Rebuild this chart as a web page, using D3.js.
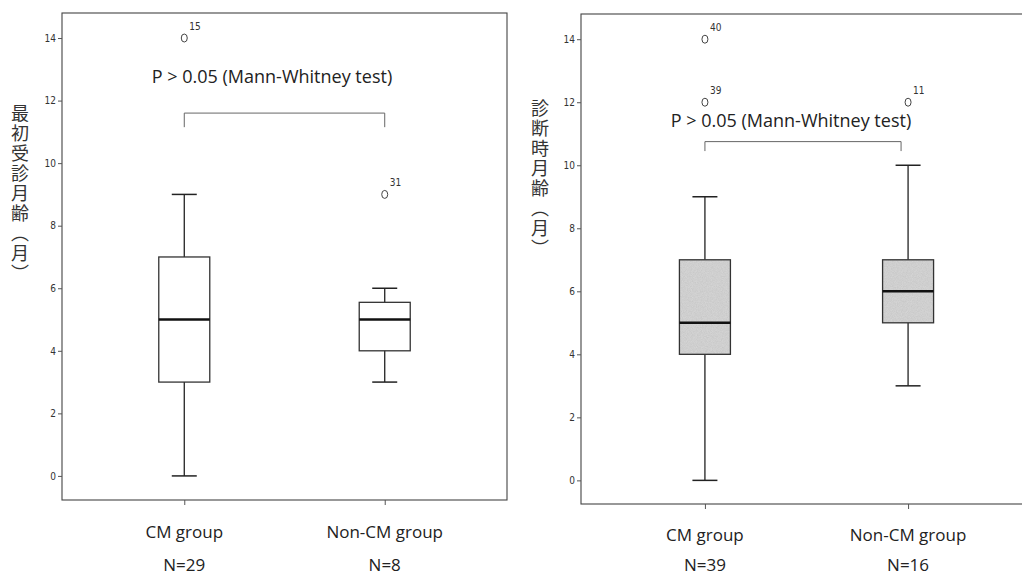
<!DOCTYPE html>
<html>
<head>
<meta charset="utf-8">
<script src="https://cdn.jsdelivr.net/npm/d3@7"></script>
<style>
  body { margin: 0; background: #fff; }
  .tick-label { font-family: "Liberation Sans Narrow", "DejaVu Sans Condensed", sans-serif; font-size: 10px; fill: #333; }
  .cat-label { font-family: "Open Sans", "Noto Sans", sans-serif; font-size: 17px; fill: #222; }
  .ptext { font-family: "Open Sans", "Noto Sans", sans-serif; font-size: 18px; fill: #222; }
  .ytitle { font-family: "Noto Sans CJK JP", sans-serif; font-size: 18px; fill: #333; writing-mode: vertical-rl; }
  .olabel { font-family: "Liberation Sans Narrow", "DejaVu Sans Condensed", sans-serif; font-size: 10px; fill: #333; }
</style>
</head>
<body>
<div class="container"></div>
<script>
const WIDTH = 1022;
const HEIGHT = 575;

// data
const groups = ["CM group", "Non-CM group"];
const yTicks = [0, 2, 4, 6, 8, 10, 12, 14];

const leftTitle = "最初受診月齢（月）";
const leftN = ["N=29", "N=8"];
const leftMin = [0, 3];
const leftQ1 = [3, 4];
const leftMedian = [5, 5];
const leftQ3 = [7, 5.55];
const leftMax = [9, 6];
const leftOutGroup = [0, 1];
const leftOutValue = [14, 9];
const leftOutId = ["15", "31"];
const leftBracket = [11.6, 11.15];

const rightTitle = "診断時月齢（月）";
const rightN = ["N=39", "N=16"];
const rightMin = [0, 3];
const rightQ1 = [4, 5];
const rightMedian = [5, 6];
const rightQ3 = [7, 7];
const rightMax = [9, 10];
const rightOutGroup = [0, 0, 1];
const rightOutValue = [14, 12, 12];
const rightOutId = ["40", "39", "11"];
const rightBracket = [10.75, 10.45];

const pText = "P > 0.05 (Mann-Whitney test)";

var svg = d3.select('.container').append('svg')
    .attr('width', WIDTH)
    .attr('height', HEIGHT);

var defs = svg.append('defs');
var filter = defs.append('filter').attr('id', 'grain')
    .attr('x', 0).attr('y', 0).attr('width', 1).attr('height', 1);
filter.append('feTurbulence').attr('type', 'fractalNoise')
    .attr('baseFrequency', 1.2).attr('numOctaves', 1).attr('result', 'noise');
filter.append('feColorMatrix').attr('in', 'noise').attr('type', 'matrix')
    .attr('values', '0 0 0 0 0.45  0 0 0 0 0.45  0 0 0 0 0.45  0.6 0 0 0 -0.05')
    .attr('result', 'dots');
filter.append('feComposite').attr('in', 'dots').attr('in2', 'SourceGraphic').attr('operator', 'in');

var drawPanel = function(p) {
    var x = d3.scalePoint().domain(groups).range([p.left, p.right]).padding(0.61);
    var y = d3.scaleLinear().domain([p.yMin, 14.8]).range([p.bottom, p.top]);
    var g = svg.append('g');
    var boxW = 51, capW = 25;

    // frame
    g.append('rect')
        .attr('x', p.left).attr('y', p.top)
        .attr('width', p.right - p.left).attr('height', p.bottom - p.top)
        .attr('fill', 'none').attr('stroke', '#444').attr('stroke-width', 1.1);

    // y axis
    var yAxis = d3.axisLeft(y).tickValues(yTicks).tickSize(4).tickPadding(2);
    var ya = g.append('g').attr('transform', 'translate(' + p.left + ',0)').call(yAxis);
    ya.select('.domain').remove();
    ya.selectAll('.tick line').attr('stroke', '#555');
    ya.selectAll('.tick text').attr('class', 'tick-label').attr('fill', null);

    // x axis ticks
    var xAxis = d3.axisBottom(x).tickSize(5).tickFormat('');
    var xa = g.append('g').attr('transform', 'translate(0,' + p.bottom + ')').call(xAxis);
    xa.select('.domain').remove();
    xa.selectAll('.tick line').attr('stroke', '#555');

    // category labels
    g.selectAll('.cat').data(groups).enter().append('text')
        .attr('class', 'cat-label')
        .attr('x', function(d) { return x(d); })
        .attr('y', p.catY)
        .attr('text-anchor', 'middle')
        .text(function(d) { return d; });
    g.selectAll('.nlab').data(p.n).enter().append('text')
        .attr('class', 'cat-label')
        .attr('x', function(d, i) { return x(groups[i]); })
        .attr('y', p.nY)
        .attr('text-anchor', 'middle')
        .text(function(d) { return d; });

    // y title (vertical)
    g.append('text')
        .attr('class', 'ytitle')
        .attr('x', p.titleX)
        .attr('y', p.titleY)
        .attr('letter-spacing', 2)
        .text(p.title);

    // boxes
    groups.forEach(function(grp, i) {
        var cx = x(grp);
        var bg = g.append('g');
        bg.append('line')
            .attr('x1', cx).attr('x2', cx)
            .attr('y1', y(p.max[i])).attr('y2', y(p.q3[i]))
            .attr('stroke', '#222').attr('stroke-width', 1.3);
        bg.append('line')
            .attr('x1', cx).attr('x2', cx)
            .attr('y1', y(p.q1[i])).attr('y2', y(p.min[i]))
            .attr('stroke', '#222').attr('stroke-width', 1.3);
        [p.max[i], p.min[i]].forEach(function(v) {
            bg.append('line')
                .attr('x1', cx - capW / 2).attr('x2', cx + capW / 2)
                .attr('y1', y(v)).attr('y2', y(v))
                .attr('stroke', '#222').attr('stroke-width', 1.5);
        });
        if (p.fill) {
            bg.append('rect')
                .attr('x', cx - boxW / 2).attr('y', y(p.q3[i]))
                .attr('width', boxW).attr('height', y(p.q1[i]) - y(p.q3[i]))
                .attr('fill', '#d8d8d8');
            bg.append('rect')
                .attr('x', cx - boxW / 2).attr('y', y(p.q3[i]))
                .attr('width', boxW).attr('height', y(p.q1[i]) - y(p.q3[i]))
                .attr('fill', '#d8d8d8').attr('filter', 'url(#grain)');
        }
        bg.append('rect')
            .attr('x', cx - boxW / 2).attr('y', y(p.q3[i]))
            .attr('width', boxW).attr('height', y(p.q1[i]) - y(p.q3[i]))
            .attr('fill', 'none').attr('stroke', '#333').attr('stroke-width', 1.3);
        bg.append('line')
            .attr('x1', cx - boxW / 2).attr('x2', cx + boxW / 2)
            .attr('y1', y(p.median[i])).attr('y2', y(p.median[i]))
            .attr('stroke', '#111').attr('stroke-width', 2.6);
    });

    // outliers
    p.outValue.forEach(function(v, i) {
        var cx = x(groups[p.outGroup[i]]);
        g.append('ellipse')
            .attr('cx', cx).attr('cy', y(v))
            .attr('rx', 3).attr('ry', 4)
            .attr('fill', 'none').attr('stroke', '#444').attr('stroke-width', 1);
        g.append('text')
            .attr('class', 'olabel')
            .attr('x', cx + 5).attr('y', y(v) - 8)
            .text(p.outId[i]);
    });

    // significance bracket
    var bx1 = x(groups[0]), bx2 = x(groups[1]) + p.bracketShift;
    var by = y(p.bracket[0]), byEnd = y(p.bracket[1]);
    var br = g.append('g').attr('stroke', '#666').attr('stroke-width', 1).attr('fill', 'none');
    br.append('path')
        .attr('d', 'M' + bx1 + ',' + byEnd + 'V' + by + 'H' + bx2 + 'V' + byEnd);
    g.append('text')
        .attr('class', 'ptext')
        .attr('x', p.pX).attr('y', p.pY)
        .attr('text-anchor', 'middle')
        .text(pText);
};

drawPanel({
    left: 62, right: 507, top: 13, bottom: 500, yMin: -0.77,
    title: leftTitle, titleX: 20, titleY: 104,
    n: leftN, catY: 538, nY: 571,
    min: leftMin, q1: leftQ1, median: leftMedian, q3: leftQ3, max: leftMax,
    outGroup: leftOutGroup, outValue: leftOutValue, outId: leftOutId,
    bracket: leftBracket, bracketShift: 0, pX: 272, pY: 83,
    fill: false
});

drawPanel({
    left: 581, right: 1032, top: 14, bottom: 504, yMin: -0.75,
    title: rightTitle, titleX: 540, titleY: 99,
    n: rightN, catY: 541, nY: 571,
    min: rightMin, q1: rightQ1, median: rightMedian, q3: rightQ3, max: rightMax,
    outGroup: rightOutGroup, outValue: rightOutValue, outId: rightOutId,
    bracket: rightBracket, bracketShift: -7, pX: 791, pY: 127,
    fill: true
});
</script>
</body>
</html>
